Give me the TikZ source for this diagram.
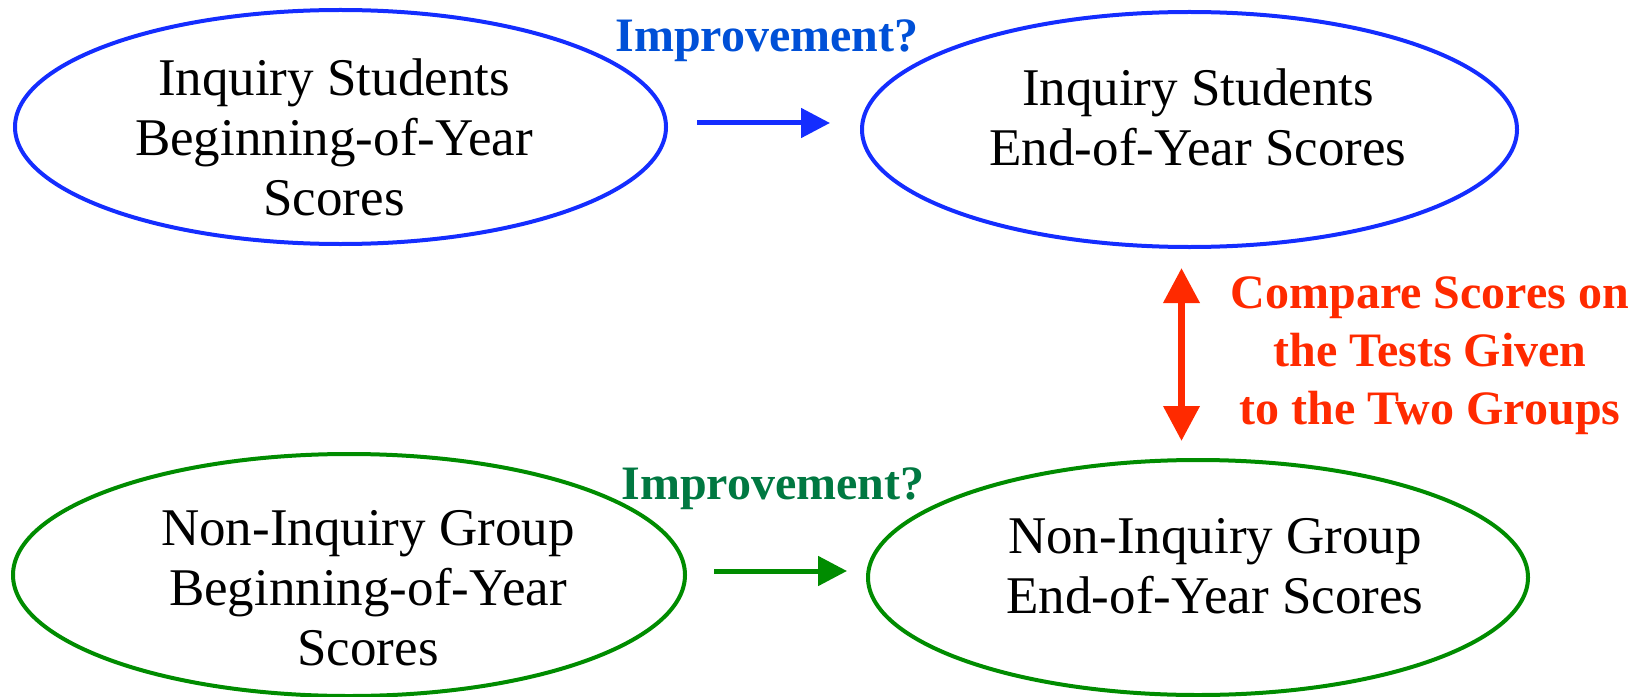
\documentclass[tikz,border=0pt]{standalone}
\usepackage{fontspec}
\setmainfont{Liberation Serif}
\usetikzlibrary{shapes.geometric,arrows.meta}
\definecolor{eblue}{RGB}{20,45,255}
\definecolor{tblue}{RGB}{0,80,215}
\definecolor{egreen}{RGB}{0,140,0}
\definecolor{tgreen}{RGB}{0,120,65}
\definecolor{ered}{RGB}{255,42,0}
\tikzset{
  ell/.style={ellipse,draw,line width=4bp,inner sep=0pt},
  txt/.style={font=\fontsize{53bp}{60bp}\selectfont,align=center,inner sep=0pt},
  lbl/.style={font=\fontsize{48bp}{58bp}\selectfont\bfseries,align=center,inner sep=0pt},
  barrow/.style={line width=5bp,-{Triangle[length=29bp,width=29bp]}},
}
\begin{document}
\begin{tikzpicture}[x=1bp,y=-1bp]
\useasboundingbox (0,0) rectangle (1647,697);
\node[ell,eblue,minimum width=651bp,minimum height=234bp] (e1) at (340.5,127) {};
\node[ell,eblue,minimum width=655bp,minimum height=235bp] (e2) at (1189.5,129.5) {};
\node[ell,egreen,minimum width=672bp,minimum height=242bp] (e3) at (349,575) {};
\node[ell,egreen,minimum width=660bp,minimum height=235bp] (e4) at (1198,577.5) {};
\node[txt] (t1) at (334,137) {Inquiry Students\\Beginning-of-Year\\Scores};
\node[txt] (t2) at (1198,117) {Inquiry Students\\End-of-Year Scores};
\node[txt] (t3) at (368,588) {Non-Inquiry Group\\Beginning-of-Year\\Scores};
\node[txt] (t4) at (1215,566) {Non-Inquiry Group\\End-of-Year Scores};
\node[lbl,tblue,anchor=base] (l1) at (767,52) {Improvement?};
\node[lbl,tgreen,anchor=base] (l2) at (773,499) {Improvement?};
\node[lbl,ered,anchor=base] (l3) at (1430,424) {Compare Scores on\\the Tests Given\\to the Two Groups};
\coordinate (a1s) at (697,123);
\coordinate (a1e) at (830,123);
\coordinate (a2s) at (714,571);
\coordinate (a2e) at (847,571);
\coordinate (a3s) at (1181.5,268);
\coordinate (a3e) at (1181.5,441);
\draw[barrow,eblue] (a1s) -- (a1e);
\draw[barrow,egreen] (a2s) -- (a2e);
\draw[ered,line width=7bp,{Triangle[length=35bp,width=35bp]}-{Triangle[length=35bp,width=35bp]}] (a3s) -- (a3e);
\end{tikzpicture}
\end{document}
